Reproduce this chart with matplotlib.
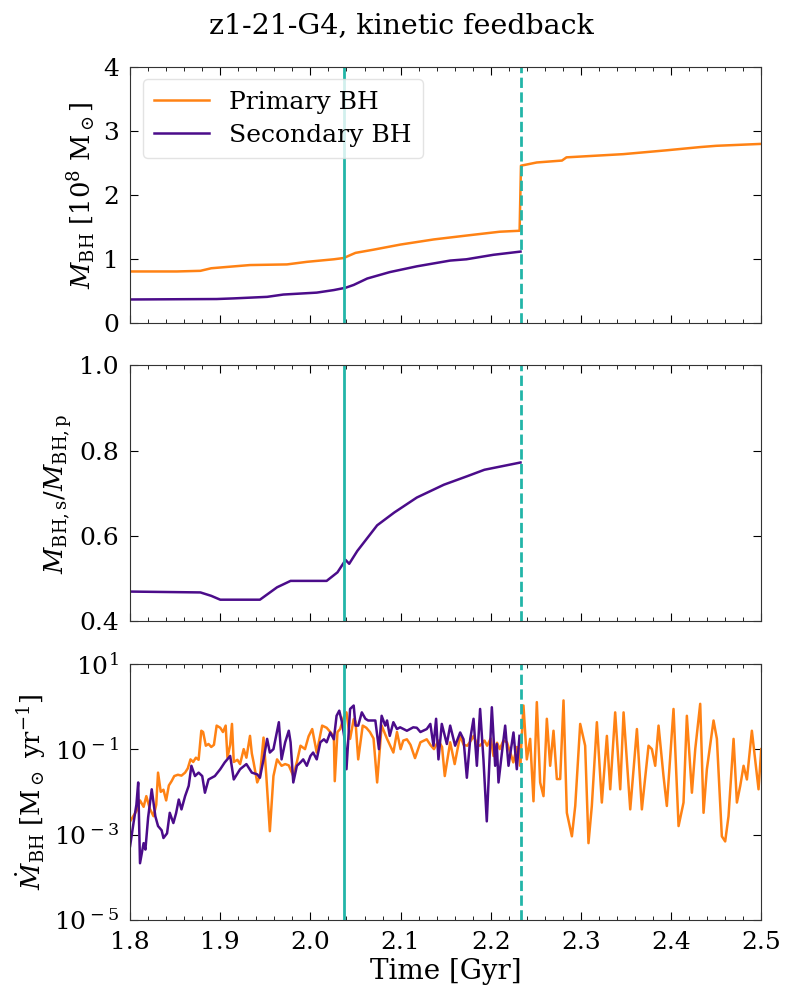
import numpy as np
import matplotlib
matplotlib.use("Agg")
import matplotlib.pyplot as plt
from matplotlib.ticker import MultipleLocator, FixedLocator, NullLocator

plt.rcParams['font.family'] = 'DejaVu Serif'
plt.rcParams['mathtext.fontset'] = 'dejavuserif'
plt.rcParams['axes.unicode_minus'] = False

# --- BH masses [1e8 Msun] ---
t_mp = [1.800, 1.852, 1.878, 1.890, 1.907, 1.933, 1.974, 1.996, 2.026, 2.037,
        2.045, 2.050, 2.070, 2.100, 2.137, 2.173, 2.210, 2.232, 2.2335, 2.251,
        2.279, 2.284, 2.347, 2.395, 2.432, 2.450, 2.500]
m_p = [0.81, 0.81, 0.82, 0.86, 0.88, 0.91, 0.92, 0.96, 1.00, 1.02,
       1.07, 1.10, 1.15, 1.23, 1.31, 1.37, 1.43, 1.445, 2.46, 2.51,
       2.54, 2.59, 2.64, 2.70, 2.75, 2.77, 2.80]
t_ms = [1.800, 1.896, 1.915, 1.952, 1.970, 2.007, 2.026, 2.039, 2.048, 2.063,
        2.088, 2.118, 2.155, 2.173, 2.203, 2.233]
m_s = [0.373, 0.38, 0.39, 0.414, 0.45, 0.48, 0.52, 0.556, 0.60, 0.70,
       0.80, 0.89, 0.98, 1.00, 1.07, 1.12]

# --- mass ratio ---
t_q = [1.800, 1.878, 1.890, 1.900, 1.944, 1.963, 1.978, 2.018, 2.030, 2.039,
       2.043, 2.052, 2.074, 2.093, 2.118, 2.148, 2.174, 2.193, 2.233]
q = [0.470, 0.468, 0.460, 0.451, 0.451, 0.480, 0.495, 0.495, 0.515, 0.544,
     0.535, 0.565, 0.625, 0.655, 0.690, 0.720, 0.740, 0.755, 0.772]

# --- accretion rates, log10 [Msun/yr] ---
t_ap = [1.800, 1.804, 1.807, 1.811, 1.815, 1.818, 1.822, 1.826, 1.829, 1.831,
        1.834, 1.837, 1.840, 1.843, 1.846, 1.849, 1.853, 1.857, 1.861, 1.864,
        1.867, 1.870, 1.873, 1.876, 1.879, 1.881, 1.884, 1.887, 1.890, 1.893,
        1.896, 1.900, 1.903, 1.906, 1.908, 1.911, 1.913, 1.915, 1.919, 1.922,
        1.926, 1.929, 1.933, 1.935, 1.937, 1.941, 1.944, 1.948, 1.951, 1.955,
        1.959, 1.963, 1.968, 1.972, 1.976, 1.981, 1.985, 1.989, 1.994, 1.998,
        2.002, 2.007, 2.013, 2.018, 2.022, 2.026, 2.027, 2.030, 2.033, 2.037,
        2.040, 2.044, 2.048, 2.050, 2.053, 2.058, 2.062, 2.066, 2.070, 2.074,
        2.079, 2.085, 2.092, 2.096, 2.100, 2.103, 2.107, 2.111, 2.116, 2.122,
        2.129, 2.133, 2.137, 2.142, 2.146, 2.149, 2.155, 2.160, 2.166, 2.170,
        2.174, 2.178, 2.181, 2.185, 2.188, 2.193, 2.196, 2.200, 2.203, 2.207,
        2.210, 2.214, 2.218, 2.222, 2.225, 2.229, 2.232, 2.2326, 2.2363, 2.240,
        2.2437, 2.2474, 2.2511, 2.2548, 2.2585, 2.2622, 2.2659, 2.2696, 2.2733, 2.277,
        2.2807, 2.2844, 2.290, 2.2937, 2.2992, 2.3047, 2.3084, 2.3121, 2.3177, 2.3232,
        2.3288, 2.3325, 2.338, 2.3436, 2.3473, 2.3547, 2.3621, 2.3676, 2.375, 2.3787,
        2.3824, 2.3861, 2.3916, 2.3953, 2.4027, 2.4083, 2.4138, 2.4175, 2.4231, 2.4268,
        2.4323, 2.436, 2.4397, 2.4471, 2.4508, 2.4563, 2.460, 2.4637, 2.4693, 2.473,
        2.4767, 2.4804, 2.4841, 2.4896, 2.497, 2.500]
lg_ap = [-2.69, -2.55, -2.45, -2.20, -2.35, -2.10, -2.40, -2.57, -2.30, -1.55,
         -2.00, -1.95, -2.20, -1.85, -1.75, -1.63, -1.60, -1.62, -1.55, -1.45,
         -1.24, -1.30, -1.20, -1.25, -0.57, -0.60, -0.92, -0.88, -0.95, -0.90,
         -0.45, -0.50, -0.60, -0.45, -1.20, -0.90, -0.41, -1.30, -1.25, -1.35,
         -1.00, -1.20, -0.69, -1.10, -1.31, -1.78, -1.63, -0.73, -1.60, -2.92,
         -1.63, -1.24, -1.39, -1.35, -1.38, -1.63, -1.30, -0.92, -1.00, -0.70,
         -0.53, -1.08, -0.45, -0.50, -0.60, -0.70, -1.75, -0.60, -0.53, -0.25,
         -0.14, -0.76, -0.30, -0.35, -1.24, -0.45, -0.50, -0.60, -0.75, -1.78,
         -0.45, -0.76, -1.08, -0.60, -1.00, -0.80, -0.77, -0.90, -1.21, -0.84,
         -0.77, -0.90, -1.00, -0.80, -0.95, -1.63, -0.84, -1.35, -0.69, -0.90,
         -0.92, -0.80, -0.69, -0.90, -0.92, -0.80, -0.92, -0.75, -1.16, -0.85,
         -1.00, -0.80, -0.84, -1.10, -1.31, -0.95, -1.00, -1.39, 0.02, -1.24,
         -0.76, -2.22, 0.10, -1.78, -2.10, -0.29, -1.39, -0.57, -1.70, -1.70,
         0.14, -2.49, -3.04, -2.33, -0.41, -0.92, -3.20, -2.33, -0.37, -2.25,
         -0.69, -1.94, -0.14, -1.94, -0.14, -2.41, -0.53, -2.41, -0.92, -1.00,
         -1.39, -0.45, -1.63, -2.33, -0.06, -2.80, -2.25, -0.22, -2.02, -1.00,
         0.06, -2.49, -1.47, -0.33, -0.76, -3.04, -3.16, -2.57, -0.76, -2.25,
         -1.86, -1.39, -1.71, -0.57, -1.94, -1.00]

t_as = [1.800, 1.804, 1.807, 1.809, 1.811, 1.815, 1.817, 1.820, 1.824, 1.828,
        1.831, 1.835, 1.837, 1.841, 1.844, 1.848, 1.851, 1.854, 1.857, 1.861,
        1.865, 1.868, 1.872, 1.876, 1.880, 1.883, 1.887, 1.894, 1.900, 1.905,
        1.911, 1.915, 1.922, 1.929, 1.935, 1.941, 1.944, 1.948, 1.952, 1.955,
        1.959, 1.965, 1.968, 1.972, 1.976, 1.978, 1.981, 1.985, 1.989, 1.992,
        1.996, 2.000, 2.003, 2.007, 2.011, 2.015, 2.018, 2.022, 2.026, 2.029,
        2.032, 2.035, 2.038, 2.040, 2.044, 2.048, 2.050, 2.053, 2.057, 2.061,
        2.064, 2.068, 2.072, 2.076, 2.079, 2.083, 2.085, 2.088, 2.092, 2.096,
        2.0995, 2.107, 2.114, 2.118, 2.122, 2.129, 2.133, 2.1365, 2.1394, 2.142,
        2.1457, 2.1513, 2.155, 2.1605, 2.1661, 2.1698, 2.1735, 2.1772, 2.1809, 2.1846,
        2.1882, 2.1919, 2.1956, 2.2012, 2.2049, 2.2067, 2.2086, 2.2123, 2.216, 2.2197,
        2.2252, 2.2289, 2.2319]
lg_as = [-3.27, -2.70, -2.30, -1.78, -3.67, -3.20, -3.35, -2.60, -1.94, -2.57,
         -2.80, -2.90, -3.08, -2.97, -2.49, -2.73, -2.50, -2.18, -2.41, -2.10,
         -1.86, -1.39, -1.63, -1.55, -1.63, -2.02, -1.71, -1.63, -1.47, -1.31,
         -1.16, -1.71, -1.47, -1.35, -1.55, -1.59, -1.67, -1.24, -0.76, -1.08,
         -1.00, -0.37, -1.24, -0.84, -0.57, -0.84, -1.78, -1.39, -1.31, -1.24,
         -1.39, -1.16, -1.08, -1.24, -0.84, -0.77, -0.84, -0.61, -0.77, -0.22,
         -0.10, -0.37, -0.77, -1.47, -0.06, 0.02, -0.45, -0.45, -0.14, -0.29,
         -0.33, -0.33, -0.33, -1.00, -0.22, -0.45, -0.33, -0.69, -0.37, -0.53,
         -0.49, -0.57, -0.49, -0.50, -0.60, -0.53, -0.41, -0.92, -0.29, -1.24,
         -0.41, -0.88, -0.45, -0.92, -0.61, -0.77, -1.67, -0.77, -0.29, -1.39,
         -0.06, -1.24, -2.69, -0.02, -1.39, -0.88, -1.78, -1.10, -0.45, -1.39,
         -0.61, -1.47, -0.69]

t_merge1 = 2.037   # solid line
t_merge2 = 2.233   # dashed line

c_p = '#ff8214'
c_s = '#4b0c8a'
c_v = '#22b5a8'

fig = plt.figure(figsize=(8.03, 9.92), dpi=100)
left, width, h = 0.162, 0.786, 0.2585
ax1 = fig.add_axes([left, 0.674, width, h])
ax2 = fig.add_axes([left, 0.3735, width, h])
ax3 = fig.add_axes([left, 0.0725, width, h])

ax1.plot(t_mp, m_p, color=c_p, lw=1.8, label='Primary BH')
ax1.plot(t_ms, m_s, color=c_s, lw=1.8, label='Secondary BH')
ax1.set_ylim(0, 4)
ax1.set_ylabel(r'$M_{\rm BH}$ [10$^8$ M$_\odot$]', fontsize=18.5)
ax1.legend(loc='upper left', fontsize=18, frameon=True, edgecolor='#dddddd',
           handlelength=2.2, borderpad=0.45, labelspacing=0.4)

ax2.plot(t_q, q, color=c_s, lw=1.8)
ax2.set_ylim(0.4, 1.0)
ax2.set_yticks([0.4, 0.6, 0.8, 1.0])
ax2.set_ylabel(r'$M_{\rm BH,s}/M_{\rm BH,p}$', fontsize=18.5)

ax3.plot(t_ap, 10**np.array(lg_ap), color=c_p, lw=1.8)
ax3.plot(t_as, 10**np.array(lg_as), color=c_s, lw=1.8)
ax3.set_yscale('log')
ax3.set_ylim(1e-5, 1e1)
ax3.yaxis.set_major_locator(FixedLocator([1e-5, 1e-3, 1e-1, 1e1]))
ax3.yaxis.set_minor_locator(NullLocator())
ax3.set_yticklabels([r'10$^{\rm -5}$', r'10$^{\rm -3}$', r'10$^{\rm -1}$', r'10$^{\rm 1}$'])
ax3.set_ylabel(r'$\dot{M}_{\rm BH}$ [M$_\odot$ yr$^{-1}$]', fontsize=18.5)
ax3.set_xlabel('Time [Gyr]', fontsize=20, labelpad=3)

for ax in (ax1, ax2, ax3):
    ax.axvline(t_merge1, color=c_v, lw=2)
    ax.axvline(t_merge2, color=c_v, lw=2, ls='--')
    ax.set_xlim(1.8, 2.5)
    ax.xaxis.set_major_locator(MultipleLocator(0.1))
    ax.xaxis.set_minor_locator(MultipleLocator(0.02))
    ax.tick_params(which='both', direction='in', top=True, right=True, labelsize=18, pad=8)
    ax.tick_params(which='major', length=6)
    ax.tick_params(which='minor', length=3)
    for s in ax.spines.values():
        s.set_color('#333333')
    if ax is not ax3:
        ax.set_xticklabels([])

ax1.yaxis.set_major_locator(MultipleLocator(1))
ax3.set_xticks(np.arange(1.8, 2.51, 0.1))
ax3.set_xticklabels(['1.8', '1.9', '2.0', '2.1', '2.2', '2.3', '2.4', '2.5'])
fig.align_ylabels([ax1, ax2, ax3])
fig.suptitle('z1-21-G4, kinetic feedback', fontsize=20.5, y=0.988)

fig.savefig('out.png', dpi=100)
